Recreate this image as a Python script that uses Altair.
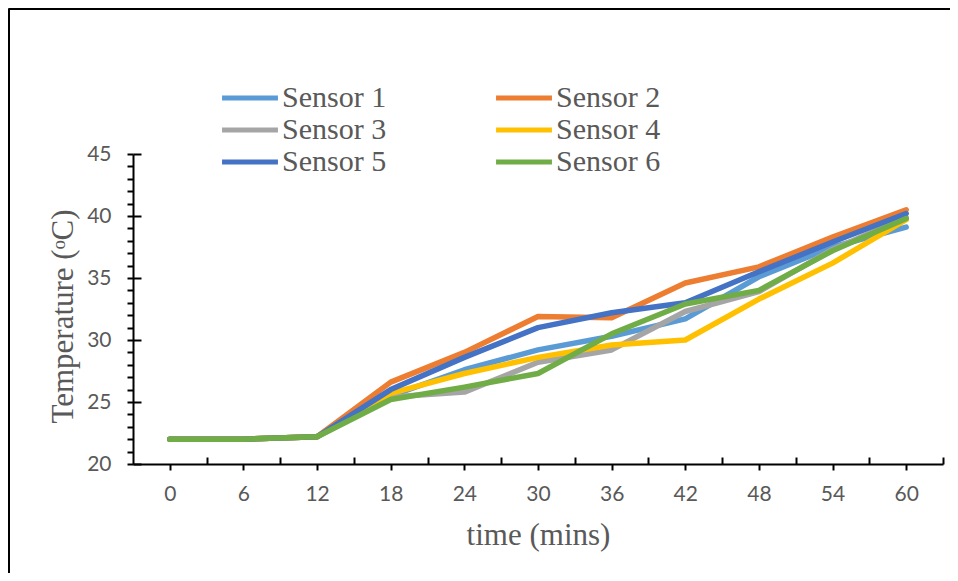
import altair as alt
import pandas as pd

times = [0, 6, 12, 18, 24, 30, 36, 42, 48, 54, 60]
sensor_names = ["Sensor 1", "Sensor 2", "Sensor 3", "Sensor 4", "Sensor 5", "Sensor 6"]
sensor1 = [22.0, 22.0, 22.2, 25.5, 27.6, 29.2, 30.3, 31.7, 35.1, 37.5, 39.1]
sensor2 = [22.0, 22.0, 22.2, 26.6, 29.0, 31.9, 31.8, 34.6, 35.9, 38.3, 40.5]
sensor3 = [22.0, 22.0, 22.2, 25.4, 25.8, 28.2, 29.2, 32.3, 33.9, 37.3, 39.9]
sensor4 = [22.0, 22.0, 22.2, 25.7, 27.3, 28.6, 29.6, 30.0, 33.3, 36.2, 39.7]
sensor5 = [22.0, 22.0, 22.2, 26.0, 28.6, 31.0, 32.2, 33.0, 35.5, 37.9, 40.2]
sensor6 = [22.0, 22.0, 22.2, 25.2, 26.2, 27.3, 30.5, 32.9, 34.0, 37.2, 39.8]
colors = ["#5B9BD5", "#ED7D31", "#A5A5A5", "#FFC000", "#4472C4", "#70AD47"]

x_labels = [0, 6, 12, 18, 24, 30, 36, 42, 48, 54, 60]
x_minor = [3, 9, 15, 21, 27, 33, 39, 45, 51, 57, 63]
y_all = list(range(20, 46))
y_major = [20, 25, 30, 35, 40, 45]

series = [sensor1, sensor2, sensor3, sensor4, sensor5, sensor6]
rows = []
for name, vals in zip(sensor_names, series):
    for t, v in zip(times, vals):
        rows.append({"sensor": name, "time": t, "temp": v})
df = pd.DataFrame(rows)

xscale = alt.Scale(domain=[-3, 63], nice=False, zero=False)
yscale = alt.Scale(domain=[20, 45], nice=False, zero=False)

GREY = "#595959"

lines = alt.Chart(df).mark_line(strokeWidth=5.5, strokeJoin="round", strokeCap="round").encode(
    x=alt.X("time:Q", scale=xscale, axis=alt.Axis(
        orient="bottom", values=x_labels, tickSize=6, tickWidth=2, tickColor="black",
        domainColor="black", domainWidth=2, grid=False,
        labelFont="Lato", labelFontSize=21, labelColor=GREY, labelPadding=13,
        title="time (mins)", titleFont="Liberation Serif", titleFontSize=31,
        titleFontWeight="normal", titleColor=GREY, titleY=80, titleBaseline="alphabetic")),
    y=alt.Y("temp:Q", scale=yscale, axis=alt.Axis(
        orient="left", values=y_all, tickSize=6, tickWidth=2, tickColor="black",
        domainColor="black", domainWidth=2, grid=False,
        labelExpr="datum.value % 5 === 0 ? datum.label : ''",
        labelFont="Lato", labelFontSize=21, labelColor=GREY, labelPadding=16,
        title="Temperature (ᵒC)", titleFont="Liberation Serif", titleFontSize=31,
        titleFontWeight="normal", titleColor=GREY, titleX=-61, titleY=162,
        titleBaseline="alphabetic")),
    color=alt.Color("sensor:N", scale=alt.Scale(domain=sensor_names, range=colors),
                    legend=alt.Legend(
                        title=None, orient="none", legendX=102, legendY=-71, columns=2,
                        direction="horizontal",
                        symbolType="M-2.5,0H2.5", symbolSize=500, symbolStrokeWidth=5,
                        labelFont="Liberation Serif", labelFontSize=30, labelColor=GREY,
                        labelOffset=17, columnPadding=99, rowPadding=2, padding=0)),
)

minor = alt.Chart(df).mark_point(opacity=0, size=1).encode(
    x=alt.X("time:Q", scale=xscale, axis=alt.Axis(
        orient="bottom", offset=-7, values=x_minor, tickSize=7, tickWidth=2,
        tickColor="black", labels=False, domain=False, grid=False, title="")),
    y=alt.Y("temp:Q", scale=yscale, axis=alt.Axis(
        orient="left", offset=-8, values=y_major, tickSize=8, tickWidth=2,
        tickColor="black", labels=False, domain=False, grid=False, title="")),
)

frame_df = pd.DataFrame({"f": [0]})
frame_top = alt.Chart(frame_df).mark_rule(color="black", strokeWidth=3).encode(
    x=alt.value(-124.5), x2=alt.value(830), y=alt.value(-145.5))
frame_left = alt.Chart(frame_df).mark_rule(color="black", strokeWidth=3).encode(
    x=alt.value(-124.5), y=alt.value(-145.5), y2=alt.value(440))

chart = alt.layer(lines, minor, frame_top, frame_left).resolve_axis(
    x="independent", y="independent"
).properties(
    width=810, height=310,
    autosize=alt.AutoSizeParams(type="none"),
    padding={"left": 125, "top": 146, "right": 7, "bottom": 109},
).configure_view(strokeWidth=0)

chart.save("out.html", embed_options={"renderer": "svg", "actions": False})
